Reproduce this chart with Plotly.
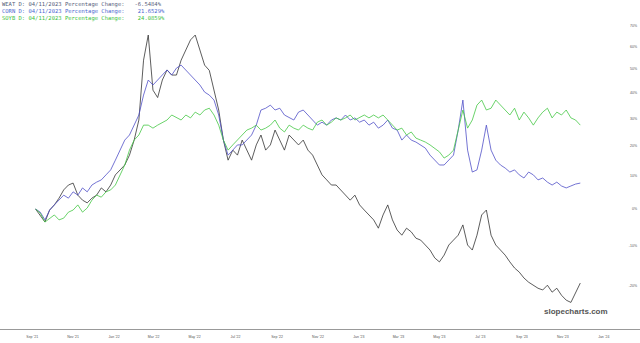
import pandas as pd
import plotly.graph_objects as go

# weekly sampling dates (categories)
dates = pd.date_range("2021-09-24", periods=117, freq="7D")

weat_pct = [0, -1.7, -3.7, -0.3, 1.2, 3.2, 5.7, 7.2, 7.8, 4.1, 2.6, 1.8, 3.2, 4.1, 6.3, 5.1, 7.2, 10.4, 12.0, 13.6,
            16.9, 22.1, 29.4, 53.9, 65.5, 41.1, 38.1, 45.3, 49.6, 47.4, 47.4, 53.9, 58.5, 63.2, 65.5, 58.2, 51.7, 49.4, 41.1, 33.2,
            22.1, 15.2, 18.6, 16.9, 22.1, 18.6, 15.2, 20.4, 23.9, 18.6, 20.4, 25.7, 22.1, 18.6, 23.9, 22.1, 20.4, 22.1, 18.6, 16.9,
            13.6, 10.4, 8.8, 7.2, 7.2, 5.7, 4.1, 2.6, 4.1, 1.2, -0.3, -1.7, -3.1, -5.4, -1.7, 1.2, -3.1, -5.9, -7.3, -5.4,
            -6.4, -8.1, -8.6, -9.9, -11.2, -13.2, -14.2, -12.5, -9.9, -8.6, -7.3, -4.5, -9.9, -11.2, -7.3, -1.7, -0.3, -7.3, -9.9, -11.2,
            -12.5, -14.2, -15.7, -16.7, -18.1, -19.1, -19.8, -20.5, -20.9, -19.8, -21.4, -20.5, -22.1, -23.2, -23.7, -21.4, -19.3]

corn_pct = [0, -0.9, -3.1, -0.3, 1.2, 2.6, 4.1, 3.2, 5.1, 4.1, 6.3, 5.1, 7.2, 8.1, 8.8, 10.4, 12.0, 15.2, 18.6, 22.1,
            23.9, 27.5, 31.3, 39.1, 45.3, 43.2, 45.3, 47.4, 49.6, 47.4, 50.4, 51.7, 49.6, 47.4, 45.3, 43.2, 40.3, 39.1, 37.1, 31.3,
            22.1, 16.9, 18.6, 20.4, 20.4, 22.1, 23.9, 27.5, 33.2, 33.9, 35.1, 33.2, 33.9, 31.3, 30.2, 29.4, 32.4, 33.2, 31.3, 29.4,
            27.5, 28.6, 27.5, 29.4, 30.2, 29.4, 31.3, 29.4, 30.2, 28.6, 29.4, 27.5, 28.6, 26.4, 27.5, 29.4, 26.4, 25.7, 22.1, 23.9,
            22.1, 21.4, 20.4, 19.3, 16.9, 15.2, 13.6, 13.6, 15.2, 16.9, 25.7, 37.1, 18.6, 11.3, 12.0, 18.6, 27.5, 18.6, 15.2, 13.6,
            12.6, 11.3, 12.0, 10.4, 9.4, 11.3, 10.4, 8.8, 9.4, 8.1, 7.2, 8.1, 6.9, 6.3, 6.9, 7.5, 7.8]

soyb_pct = [0, -1.2, -3.7, -2.6, -1.7, -3.1, -2.6, -0.9, -0.3, 1.2, -0.9, 0.3, 2.6, 4.1, 3.5, 5.1, 5.7, 7.2, 10.4, 13.6,
            18.6, 22.1, 23.9, 27.5, 27.5, 26.4, 27.5, 28.6, 29.4, 31.3, 30.2, 29.4, 31.3, 30.2, 32.4, 31.3, 33.2, 33.9, 31.3, 27.5,
            22.1, 18.6, 20.4, 22.1, 23.9, 25.7, 26.4, 27.5, 25.7, 26.4, 27.5, 29.4, 26.4, 25.0, 27.5, 26.4, 25.7, 27.5, 26.4, 25.7,
            28.6, 29.4, 27.5, 28.6, 30.2, 29.4, 30.2, 31.3, 29.4, 30.2, 31.3, 30.2, 31.3, 30.2, 31.3, 29.4, 27.5, 25.7, 26.4, 23.9,
            25.0, 22.8, 22.1, 21.4, 20.4, 19.3, 18.0, 15.9, 16.9, 18.6, 25.7, 33.2, 26.4, 29.4, 35.1, 37.1, 33.2, 33.9, 37.1, 35.1,
            33.2, 31.3, 33.9, 29.4, 32.4, 30.2, 27.5, 30.2, 32.4, 33.9, 30.2, 32.4, 31.3, 33.2, 30.2, 29.4, 27.5]

y_tick_pct = [-20, -10, 0, 10, 20, 30, 40, 50, 60, 70]
x_tick_dates = ["2021-09-19", "2021-11-19", "2022-01-19", "2022-03-19", "2022-05-19", "2022-07-19",
                "2022-09-19", "2022-11-19", "2023-01-19", "2023-03-19", "2023-05-19", "2023-07-19",
                "2023-09-19", "2023-11-19", "2024-01-19"]
x_tick_text = ["Sep '21", "Nov '21", "Jan '22", "Mar '22", "May '22", "Jul '22", "Sep '22", "Nov '22",
               "Jan '23", "Mar '23", "May '23", "Jul '23", "Sep '23", "Nov '23", "Jan '24"]

series = [
    ("WEAT", weat_pct, "#333333"),
    ("CORN", corn_pct, "#5050c8"),
    ("SOYB", soyb_pct, "#45c845"),
]

fig = go.Figure()
for name, vals, color in series:
    fig.add_trace(go.Scatter(
        x=dates, y=[1 + v / 100 for v in vals], mode="lines", name=name,
        line=dict(color=color, width=0.8), showlegend=False))

legend_lines = [
    ("WEAT D: 04/11/2023 Percentage Change:   -6.5484%", "#55607a"),
    ("CORN D: 04/11/2023 Percentage Change:    21.6529%", "#4a68d0"),
    ("SOYB D: 04/11/2023 Percentage Change:    24.0859%", "#3cbf3c"),
]
for i, (txt, col) in enumerate(legend_lines):
    fig.add_annotation(xref="paper", yref="paper", x=0.0, y=1 - (4 + 7.3 * i) / 329,
                       text=txt, showarrow=False, xanchor="left", yanchor="middle",
                       font=dict(family="DejaVu Sans Mono", size=5.5, color=col))

fig.add_annotation(xref="paper", yref="paper", x=576 / 640, y=1 - 311 / 329,
                   text="<b>slopecharts.com</b>", showarrow=False, xanchor="center", yanchor="middle",
                   font=dict(family="Liberation Sans", size=8, color="#555555"))

fig.update_layout(
    width=640, height=343,
    margin=dict(l=0, r=0, t=0, b=14),
    paper_bgcolor="white", plot_bgcolor="white",
    xaxis=dict(type="date", range=["2021-08-02", "2024-03-13"], showgrid=False, zeroline=False,
               showline=True, linecolor="#999999", linewidth=1,
               tickvals=x_tick_dates, ticktext=x_tick_text, ticks="",
               tickfont=dict(family="Liberation Sans", size=3.5, color="#555555"),
               ticklabelstandoff=4),
    yaxis=dict(type="log", range=[-0.1509, 0.2629], side="right", showgrid=False, zeroline=False,
               showline=False, tickvals=[1 + v / 100 for v in y_tick_pct],
               ticktext=[f"{v}%" for v in y_tick_pct], ticks="", ticklabelposition="inside",
               tickfont=dict(family="Liberation Sans", size=3.5, color="#555555")),
)

fig.write_html("out.html")
